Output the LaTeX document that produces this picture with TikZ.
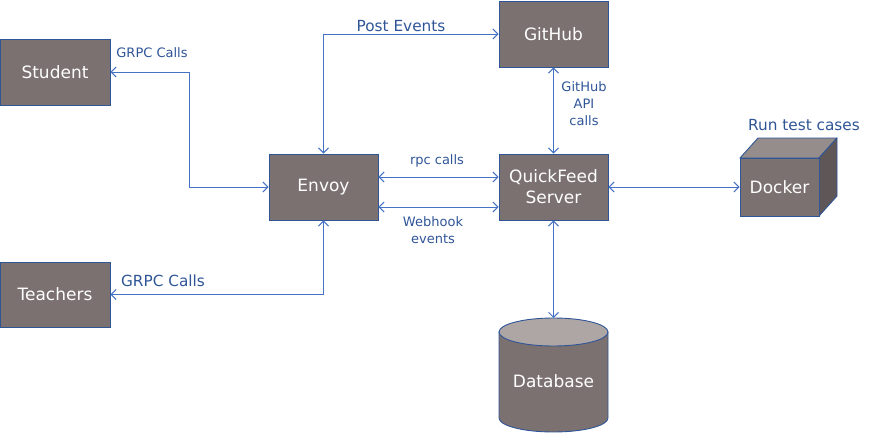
\documentclass[tikz,border=0pt]{standalone}
\usepackage{fontspec}
\setmainfont{DejaVu Sans}
\usetikzlibrary{arrows.meta}
\definecolor{boxfill}{HTML}{7B7170}
\definecolor{boxtop}{HTML}{958D8B}
\definecolor{boxside}{HTML}{5F5757}
\definecolor{dbtopc}{HTML}{ADA6A5}
\definecolor{edgeblue}{HTML}{2F5597}
\definecolor{lineblue}{HTML}{4472C4}
\tikzset{
  box/.style={draw=edgeblue, line width=0.9pt, fill=boxfill, text=white,
    minimum width=109pt, minimum height=66pt, inner sep=0pt, align=center,
    font=\fontsize{17}{21}\selectfont},
  conn/.style={draw=lineblue, line width=1pt,
    {Straight Barb[length=5pt,width=10pt]}-{Straight Barb[length=5pt,width=10pt]}},
  lbl/.style={text=edgeblue, align=center, inner sep=0pt},
  small/.style={lbl, font=\fontsize{13}{17}\selectfont},
  big/.style={lbl, font=\fontsize{15.3}{18}\selectfont},
}
\begin{document}
\begin{tikzpicture}[x=1pt,y=-1pt]
\useasboundingbox (0,0) rectangle (871,434);
% boxes
\node[box, minimum width=110pt] (student) at (55,72) {Student};
\node[box, minimum width=110pt, minimum height=65pt] (teachers) at (55,294.5) {Teachers};
\node[box] (envoy) at (323.5,187) {Envoy};
\node[box] (github) at (553.5,34) {GitHub};
\node[box] (qf) at (553.5,187) {QuickFeed\\Server};
% docker cube
\fill[boxtop, draw=edgeblue, line width=0.9pt, line join=round]
  (740,158) -- (758,138) -- (837,138) -- (819,158) -- cycle;
\fill[boxside, draw=edgeblue, line width=0.9pt, line join=round]
  (819,158) -- (837,138) -- (837,196) -- (819,216) -- cycle;
\node[box, minimum width=79pt, minimum height=58pt] (docker) at (779.5,187) {Docker};
% database cylinder
\path[fill=boxfill, draw=edgeblue, line width=0.9pt]
  (499,332) -- (499,418) arc[start angle=180, end angle=0, x radius=54.5, y radius=14]
  -- (608,332) -- cycle;
\path[fill=dbtopc, draw=edgeblue, line width=0.9pt]
  (553.5,332) ellipse[x radius=54.5, y radius=14];
\coordinate (dbtop) at (553.5,318);
\node[lbl, text=white, font=\fontsize{17}{21}\selectfont] (db) at (553.5,381) {Database};
% connectors
\coordinate (sbend) at (189,72);
\draw[conn] (student.east) -- (sbend) |- (envoy.west);
\draw[conn] (envoy.north) |- (github.west);
\draw[conn] (teachers.east) -| (envoy.south);
\draw[conn] ([yshift=10pt]envoy.east) -- ([yshift=10pt]qf.west);
\draw[conn] ([yshift=-20pt]envoy.east) -- ([yshift=-20pt]qf.west);
\draw[conn] (github.south) -- (qf.north);
\draw[conn] (qf.east) -- (docker.west);
\draw[conn] (qf.south) -- (dbtop);
% labels
\node[small] (l1) at (152,53) {GRPC Calls};
\node[big] (l2) at (401,26) {Post Events};
\node[big] (l3) at (163,281) {GRPC Calls};
\node[small] (l4) at (437,161) {rpc calls};
\node[small] (l5) at (433,230) {Webhook\\events};
\node[small] (l6) at (584,104) {GitHub\\API\\calls};
\node[big] (l7) at (804,125) {Run test cases};
\end{tikzpicture}
\end{document}
